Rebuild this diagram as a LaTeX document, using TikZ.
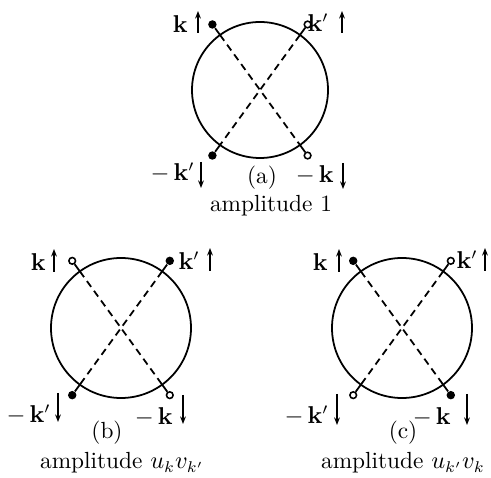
\documentclass[tikz,border=0pt]{standalone}
\usetikzlibrary{arrows.meta, calc}

\begin{document}
\begin{tikzpicture}[
    x=0.45pt, y=0.45pt,
    >={Stealth[length=3.4pt, width=2.6pt]}, % Set default arrow tip style
    ring/.style={draw, circle, line width=0.8pt, inner sep=0pt, outer sep=0pt}, % The loop
    full/.style={fill=black, circle, inner sep=0pt, minimum size=3.8pt}, % Filled end point
    hollow/.style={draw, fill=white, circle, line width=0.7pt, inner sep=0pt, minimum size=3pt}, % Open end point
    leg/.style={line width=0.8pt},
    prop/.style={line width=0.8pt, dash pattern=on 3.2pt off 2.2pt},
    spin/.style={->, line width=0.6pt},
    txt/.style={font=\fontsize{10.5}{12}\selectfont},
    mom/.style={txt, anchor=east, inner sep=0pt} % Momentum label, right edge given
]

\useasboundingbox (0,0) rectangle (491,-478);

% ---------------- Diagram (a)
\node[ring, minimum size=61.2pt] (ca) at (260,-90) {};
\node[full]   (ka)   at ($(ca.center)+(126:81)$) {};
\node[hollow] (kpa)  at ($(ca.center)+(54:81)$) {};
\node[full]   (mkpa) at ($(ca.center)+(234:81)$) {};
\node[hollow] (mka)  at ($(ca.center)+(306:81)$) {};

% Legs and crossing lines
\draw[leg] (ka) -- (ca.126);
\draw[leg] (kpa) -- (ca.54);
\draw[leg] (mkpa) -- (ca.234);
\draw[leg] (mka) -- (ca.306);
\draw[prop] (ca.126) -- (ca.306);
\draw[prop] (ca.54) -- (ca.234);

% Labels
\node[mom] (lka) at (188,-24) {$\mathbf{k}$};
\draw[spin] (198,-33) -- (198,-11);
\node[mom] (lkpa) at (329,-23) {$\mathbf{k}'$};
\draw[spin] (342,-33) -- (342,-11);
\node[mom] (lmkpa) at (195,-173) {$-\,\mathbf{k}'$};
\draw[spin] (201,-162) -- (201,-188);
\node[mom] (lmka) at (334,-175) {$-\,\mathbf{k}$};
\draw[spin] (343,-163) -- (343,-189);
\node[txt] (tagA) at (262,-178) {(a)};
\node[txt] (ampA) at (271,-206) {amplitude 1};

% ---------------- Diagram (b)
\node[ring, minimum size=63pt] (cb) at (121,-328) {};
\node[hollow] (kb)   at ($(cb.center)+(126:83)$) {};
\node[full]   (kpb)  at ($(cb.center)+(54:83)$) {};
\node[full]   (mkpb) at ($(cb.center)+(234:83)$) {};
\node[hollow] (mkb)  at ($(cb.center)+(306:83)$) {};

% Legs and crossing lines
\draw[leg] (kb) -- (cb.126);
\draw[leg] (kpb) -- (cb.54);
\draw[leg] (mkpb) -- (cb.234);
\draw[leg] (mkb) -- (cb.306);
\draw[prop] (cb.126) -- (cb.306);
\draw[prop] (cb.54) -- (cb.234);

% Labels
\node[mom] (lkb) at (46,-262) {$\mathbf{k}$};
\draw[spin] (54,-272) -- (54,-249);
\node[mom] (lkpb) at (200,-261) {$\mathbf{k}'$};
\draw[spin] (210,-271) -- (210,-248);
\node[mom] (lmkpb) at (51,-415) {$-\,\mathbf{k}'$};
\draw[spin] (58,-393) -- (58,-422);
\node[mom] (lmkb) at (173,-417) {$-\,\mathbf{k}$};
\draw[spin] (183,-395) -- (183,-424);
\node[txt] (tagB) at (107,-433) {(b)};
\node[txt] (ampB) at (122,-463) {amplitude $u_k v_{k'}$};

% ---------------- Diagram (c)
\node[ring, minimum size=63pt] (cc) at (402,-328) {};
\node[full]   (kc)   at ($(cc.center)+(126:83)$) {};
\node[hollow] (kpc)  at ($(cc.center)+(54:83)$) {};
\node[hollow] (mkpc) at ($(cc.center)+(234:83)$) {};
\node[full]   (mkc)  at ($(cc.center)+(306:83)$) {};

% Legs and crossing lines
\draw[leg] (kc) -- (cc.126);
\draw[leg] (kpc) -- (cc.54);
\draw[leg] (mkpc) -- (cc.234);
\draw[leg] (mkc) -- (cc.306);
\draw[prop] (cc.126) -- (cc.306);
\draw[prop] (cc.54) -- (cc.234);

% Labels
\node[mom] (lkc) at (328,-262) {$\mathbf{k}$};
\draw[spin] (339,-272) -- (339,-249);
\node[mom] (lkpc) at (478,-260) {$\mathbf{k}'$};
\draw[spin] (485,-271) -- (485,-248);
\node[mom] (lmkpc) at (329,-416) {$-\,\mathbf{k}'$};
\draw[spin] (337,-394) -- (337,-425);
\node[mom] (lmkc) at (451,-417) {$-\,\mathbf{k}$};
\draw[spin] (467,-394) -- (467,-425);
\node[txt] (tagC) at (403,-433) {(c)};
\node[txt] (ampC) at (403,-463) {amplitude $u_{k'} v_k$};

\end{tikzpicture}
\end{document}
